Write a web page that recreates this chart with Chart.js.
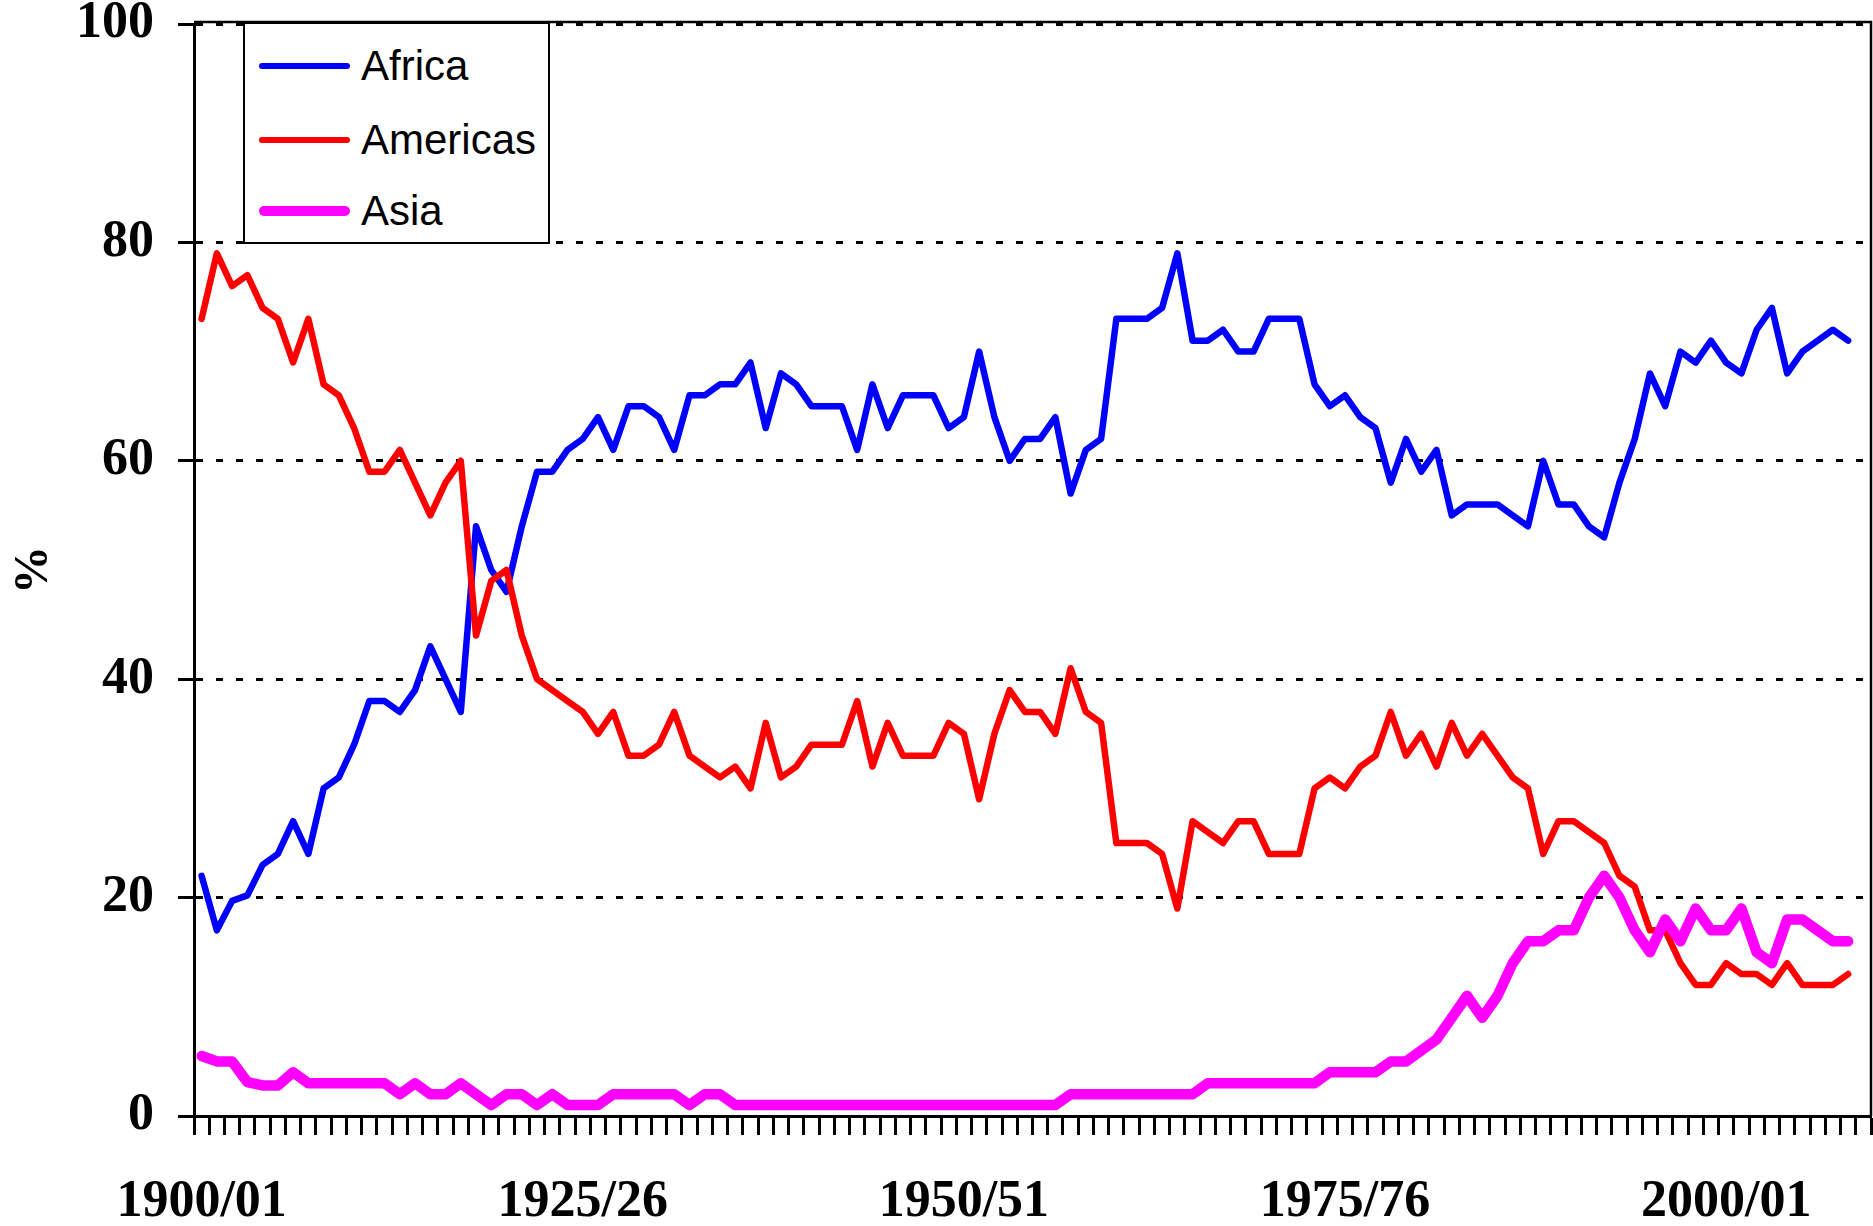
<!DOCTYPE html>
<html>
<head>
<meta charset="utf-8">
<title>Regional shares, 1900/01 - 2008/09</title>
<script src="https://cdn.jsdelivr.net/npm/chart.js@4"></script>
<style>
  body { margin: 0; background: #fff; }
  #wrap { position: relative; width: 1873px; height: 1226px; }
  #legend {
    position: absolute; left: 243px; top: 22px; width: 307px; height: 222px;
    border: 2px solid #000; background: #fff; box-sizing: border-box;
  }
  .item { position: absolute; left: 0; height: 0; width: 100%; }
  .swatch { position: absolute; left: 14px; width: 91px; border-radius: 6px; }
  .label {
    position: absolute; left: 116px; top: -21px; height: 42px; line-height: 42px;
    font-family: "Liberation Sans", Arial, sans-serif; font-size: 42px; color: #000;
    white-space: nowrap;
  }
</style>
</head>
<body>
<div id="wrap">
  <canvas id="chart" width="1873" height="1226"></canvas>
  <div id="legend"></div>
</div>
<script>
// the original axis keeps one empty slot after the last year
const years = [
  '1900/01','1901/02','1902/03','1903/04','1904/05','1905/06','1906/07','1907/08','1908/09','1909/10',
  '1910/11','1911/12','1912/13','1913/14','1914/15','1915/16','1916/17','1917/18','1918/19','1919/20',
  '1920/21','1921/22','1922/23','1923/24','1924/25','1925/26','1926/27','1927/28','1928/29','1929/30',
  '1930/31','1931/32','1932/33','1933/34','1934/35','1935/36','1936/37','1937/38','1938/39','1939/40',
  '1940/41','1941/42','1942/43','1943/44','1944/45','1945/46','1946/47','1947/48','1948/49','1949/50',
  '1950/51','1951/52','1952/53','1953/54','1954/55','1955/56','1956/57','1957/58','1958/59','1959/60',
  '1960/61','1961/62','1962/63','1963/64','1964/65','1965/66','1966/67','1967/68','1968/69','1969/70',
  '1970/71','1971/72','1972/73','1973/74','1974/75','1975/76','1976/77','1977/78','1978/79','1979/80',
  '1980/81','1981/82','1982/83','1983/84','1984/85','1985/86','1986/87','1987/88','1988/89','1989/90',
  '1990/91','1991/92','1992/93','1993/94','1994/95','1995/96','1996/97','1997/98','1998/99','1999/00',
  '2000/01','2001/02','2002/03','2003/04','2004/05','2005/06','2006/07','2007/08','2008/09','2009/10'
];

// only these get a printed label on the x axis
const tickLabels = ['1900/01', '1925/26', '1950/51', '1975/76', '2000/01'];

const africa = [
  22, 17, 19.7, 20.2, 23, 24, 27, 24, 30, 31,
  34, 38, 38, 37, 39, 43, 40, 37, 54, 50,
  48, 54, 59, 59, 61, 62, 64, 61, 65, 65,
  64, 61, 66, 66, 67, 67, 69, 63, 68, 67,
  65, 65, 65, 61, 67, 63, 66, 66, 66, 63,
  64, 70, 64, 60, 62, 62, 64, 57, 61, 62,
  73, 73, 73, 74, 79, 71, 71, 72, 70, 70,
  73, 73, 73, 67, 65, 66, 64, 63, 58, 62,
  59, 61, 55, 56, 56, 56, 55, 54, 60, 56,
  56, 54, 53, 58, 62, 68, 65, 70, 69, 71,
  69, 68, 72, 74, 68, 70, 71, 72, 71
];

const americas = [
  73, 79, 76, 77, 74, 73, 69, 73, 67, 66,
  63, 59, 59, 61, 58, 55, 58, 60, 44, 49,
  50, 44, 40, 39, 38, 37, 35, 37, 33, 33,
  34, 37, 33, 32, 31, 32, 30, 36, 31, 32,
  34, 34, 34, 38, 32, 36, 33, 33, 33, 36,
  35, 29, 35, 39, 37, 37, 35, 41, 37, 36,
  25, 25, 25, 24, 19, 27, 26, 25, 27, 27,
  24, 24, 24, 30, 31, 30, 32, 33, 37, 33,
  35, 32, 36, 33, 35, 33, 31, 30, 24, 27,
  27, 26, 25, 22, 21, 17, 17, 14, 12, 12,
  14, 13, 13, 12, 14, 12, 12, 12, 13
];

const asia = [
  5.5, 5, 5, 3.1, 2.8, 2.8, 4, 3, 3, 3,
  3, 3, 3, 2, 3, 2, 2, 3, 2, 1,
  2, 2, 1, 2, 1, 1, 1, 2, 2, 2,
  2, 2, 1, 2, 2, 1, 1, 1, 1, 1,
  1, 1, 1, 1, 1, 1, 1, 1, 1, 1,
  1, 1, 1, 1, 1, 1, 1, 2, 2, 2,
  2, 2, 2, 2, 2, 2, 3, 3, 3, 3,
  3, 3, 3, 3, 4, 4, 4, 4, 5, 5,
  6, 7, 9, 11, 9, 11, 14, 16, 16, 17,
  17, 20, 22, 20, 17, 15, 18, 16, 19, 17,
  17, 19, 15, 14, 18, 18, 17, 16, 16
];

const axisFont = { family: '"Liberation Serif", "Times New Roman", serif', size: 52, weight: 'bold' };

// thin frame along the top and right of the plot, like the original
const framePlugin = {
  id: 'frame',
  afterDraw(chart) {
    const { ctx, chartArea } = chart;
    ctx.save();
    ctx.strokeStyle = '#000';
    ctx.lineWidth = 2.5;
    ctx.beginPath();
    ctx.moveTo(chartArea.left, 22);
    ctx.lineTo(chartArea.right, 22);
    ctx.lineTo(chartArea.right, chartArea.bottom);
    ctx.stroke();
    ctx.restore();
  }
};

const ctx = document.getElementById('chart').getContext('2d');

const chart = new Chart(ctx, {
  type: 'line',
  data: {
    labels: years,
    datasets: [
      { label: 'Africa', data: africa, borderColor: '#0000ff', borderWidth: 6.5, order: 3 },
      { label: 'Americas', data: americas, borderColor: '#ff0000', borderWidth: 6.5, order: 2 },
      { label: 'Asia', data: asia, borderColor: '#ff00ff', borderWidth: 10.5, order: 1 },
    ],
  },
  options: {
    responsive: false,
    animation: false,
    layout: { padding: { top: 24, right: 2, left: 0, bottom: 0 } },
    elements: {
      point: { radius: 0 },
      line: { tension: 0, borderJoinStyle: 'round', borderCapStyle: 'round', fill: false },
    },
    plugins: {
      legend: { display: false },
      tooltip: { enabled: false },
    },
    scales: {
      x: {
        offset: true,
        grid: {
          offset: true,
          drawOnChartArea: false,
          drawTicks: true,
          tickLength: 19,
          tickWidth: 3,
          tickColor: '#000',
        },
        border: { color: '#000', width: 3 },
        ticks: {
          autoSkip: false,
          maxRotation: 0,
          minRotation: 0,
          padding: 36,
          color: '#000',
          font: axisFont,
          callback: (value, i) => tickLabels.includes(years[i]) ? years[i] : '',
        },
        afterFit: (scale) => {
          scale.height = 110;
          scale.paddingLeft = 0;
          scale.paddingRight = 0;
        },
      },
      y: {
        min: 0,
        max: 100,
        ticks: { stepSize: 20, padding: 24, color: '#000', font: axisFont },
        grid: {
          color: '#000',
          lineWidth: 3,
          tickLength: 16,
          tickWidth: 3,
          tickColor: '#000',
          tickBorderDash: [],
        },
        border: { color: '#000', width: 3, dash: [7, 13] },
        title: {
          display: true,
          text: '%',
          color: '#000',
          padding: { top: 6, bottom: 0 },
          font: { family: '"Liberation Serif", "Times New Roman", serif', size: 48, weight: 'bold' },
        },
        afterFit: (scale) => {
          scale.width = 194;
          scale.paddingTop = 0;
          scale.paddingBottom = 0;
        },
      },
    },
  },
  plugins: [framePlugin],
});

// legend box drawn as html over the plot, built from the datasets
function buildLegend(chart) {
  const box = document.getElementById('legend');
  const rows = [42, 116, 187];
  chart.data.datasets.forEach((ds, i) => {
    const item = document.createElement('div');
    item.className = 'item';
    item.style.top = rows[i] + 'px';
    const sw = document.createElement('div');
    sw.className = 'swatch';
    sw.style.height = ds.borderWidth + 'px';
    sw.style.top = (-ds.borderWidth / 2) + 'px';
    sw.style.background = ds.borderColor;
    const txt = document.createElement('div');
    txt.className = 'label';
    txt.textContent = ds.label;
    item.appendChild(sw);
    item.appendChild(txt);
    box.appendChild(item);
  });
}

buildLegend(chart);
</script>
</body>
</html>
